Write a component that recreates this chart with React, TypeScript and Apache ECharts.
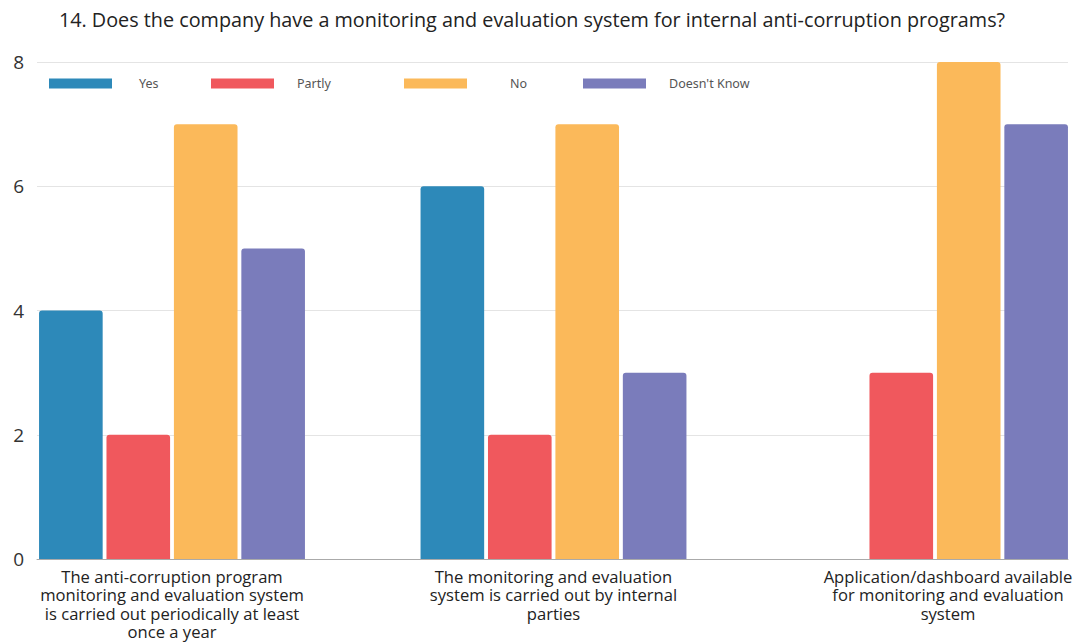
import React, { useEffect, useRef } from "react";
import * as echarts from "echarts";

const title =
  "14. Does the company have a monitoring and evaluation system for internal anti-corruption programs?";
const categories = [
  "The anti-corruption program\nmonitoring and evaluation system\nis carried out periodically at least\nonce a year",
  "The monitoring and evaluation\nsystem is carried out by internal\nparties",
  "Application/dashboard available\nfor monitoring and evaluation\nsystem",
];
const seriesNames = ["Yes", "Partly", "No", "Doesn't Know"];
const yesValues = [4, 6, 0];
const partlyValues = [2, 2, 3];
const noValues = [7, 7, 8];
const dontKnowValues = [5, 3, 7];
const colors = ["#2D89B9", "#F0585D", "#FBB95A", "#7A7CBB"];

export default function App() {
  const ref = useRef<HTMLDivElement>(null);
  useEffect(() => {
    if (!ref.current) return;
    const chart = echarts.init(ref.current, null, { renderer: "svg" });
    const allValues = [yesValues, partlyValues, noValues, dontKnowValues];
    const legendLeft = [44, 206, 399, 578];
    const legendPad = [22, 18, 38, 18];
    const font = "'Open Sans', Roboto, sans-serif";
    chart.setOption({
      animation: false,
      backgroundColor: "#ffffff",
      title: {
        text: title,
        left: 527,
        textAlign: "center",
        top: 4,
        textStyle: { fontFamily: font, fontSize: 19.8, fontWeight: "normal", color: "#222" },
      },
      legend: seriesNames.map((n, i) => ({
        data: [n],
        left: legendLeft[i],
        top: 72,
        itemWidth: 63,
        itemHeight: 10,
        icon: "rect",
        selectedMode: false,
        textStyle: {
          fontFamily: "'Noto Sans', sans-serif",
          fontSize: 12.5,
          color: "#555",
          padding: [0, 0, 0, legendPad[i]],
        },
      })),
      grid: [
        { left: 37, right: 12, top: 62, bottom: 84, outerBoundsMode: "none" },
        { left: -18.75, right: -45.75, top: 62, bottom: 84, outerBoundsMode: "none" },
      ],
      xAxis: [
        {
          gridIndex: 0,
          type: "category",
          data: [""],
          axisLine: { show: true, lineStyle: { color: "#aaaaaa", width: 1 } },
          axisTick: { show: false },
          axisLabel: { show: false },
          splitLine: { show: false },
        },
        {
          gridIndex: 1,
          type: "category",
          data: categories,
          axisLine: { show: false },
          axisTick: { show: false },
          axisLabel: {
            interval: 0,
            margin: 8,
            fontFamily: font,
            fontSize: 16.6,
            lineHeight: 18.5,
            color: "#222",
            formatter: (v: string, i: number) =>
              i === 2
                ? v
                    .split("\n")
                    .map((l) => `{s|${l}}`)
                    .join("\n")
                : v,
            rich: {
              s: {
                fontFamily: font,
                fontSize: 16.6,
                lineHeight: 18.5,
                color: "#222",
                padding: [0, 0, 0, 26],
              },
            },
          },
        },
      ],
      yAxis: [
        {
          gridIndex: 0,
          type: "value",
          min: 0,
          max: 8,
          interval: 2,
          axisLine: { show: false },
          axisTick: { show: false },
          axisLabel: { margin: 13, fontFamily: font, fontSize: 19, color: "#333" },
          splitLine: { lineStyle: { color: "#e4e4e4", width: 1 } },
        },
        {
          gridIndex: 1,
          type: "value",
          min: 0,
          max: 8,
          interval: 2,
          show: false,
          splitLine: { show: false },
        },
      ],
      series: seriesNames.map((n, i) => ({
        name: n,
        type: "bar",
        xAxisIndex: 1,
        yAxisIndex: 1,
        data: allValues[i],
        barCategoryGap: "30.3%",
        barGap: "6%",
        itemStyle: { color: colors[i], borderRadius: [3, 3, 0, 0] },
      })),
    });
    return () => chart.dispose();
  }, []);
  return (
    <div
      ref={ref}
      style={{ position: "fixed", left: 0, top: 0, width: 1080, height: 643, background: "#fff" }}
    />
  );
}
